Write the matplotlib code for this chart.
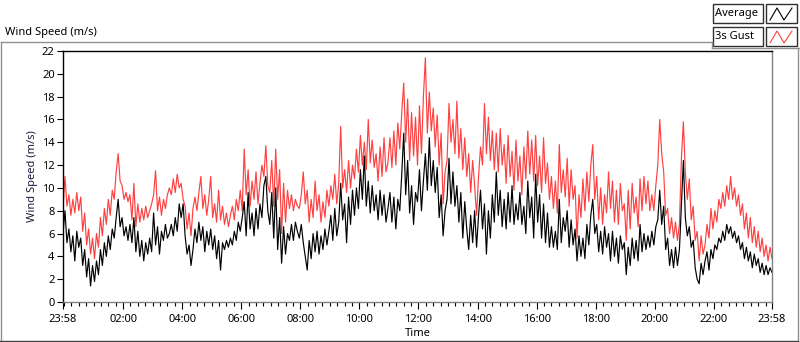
import numpy as np
import matplotlib
matplotlib.use("Agg")
import matplotlib.pyplot as plt
from matplotlib.lines import Line2D
from matplotlib.patches import Rectangle

plt.rcParams['font.family'] = ['Noto Sans', 'DejaVu Sans']

# samples every 4 minutes starting at 23:58, one row per hour
average = [
    6.0, 8.0, 5.2, 6.4, 4.4, 5.8, 3.6, 6.2, 4.8, 5.6, 3.2, 4.6, 2.2, 3.8, 1.4,
    3.2, 1.8, 3.6, 2.4, 4.6, 3.2, 5.2, 4.0, 5.8, 4.6, 6.4, 5.6, 7.4, 9.0, 6.6,
    7.4, 5.8, 6.6, 5.4, 6.8, 5.2, 7.4, 4.4, 6.2, 4.0, 5.4, 3.6, 5.2, 4.2, 5.6,
    4.4, 7.8, 5.0, 6.6, 4.2, 6.2, 5.4, 6.8, 5.6, 6.0, 6.8, 5.8, 7.4, 6.2, 8.6,
    7.4, 8.6, 5.8, 4.2, 5.0, 3.2, 4.6, 6.4, 5.2, 7.0, 5.4, 6.6, 4.4, 6.2, 5.0,
    6.4, 4.6, 5.8, 3.8, 5.4, 2.8, 5.2, 4.6, 5.4, 4.8, 5.6, 5.0, 6.2, 5.4, 7.0,
    6.2, 7.4, 8.8, 5.8, 9.6, 6.4, 7.8, 5.8, 8.2, 6.4, 8.6, 7.4, 10.2, 11.0, 8.0,
    6.8, 9.6, 5.6, 10.0, 4.6, 7.4, 3.4, 6.6, 4.2, 6.0, 5.4, 6.8, 5.4, 7.0, 6.2,
    5.6, 6.8, 5.2, 4.0, 2.8, 5.4, 3.8, 6.0, 4.4, 6.2, 4.2, 5.8, 4.6, 6.4, 5.0,
    6.2, 7.6, 5.4, 8.2, 5.8, 7.0, 10.4, 7.2, 8.6, 5.2, 9.2, 6.8, 9.8, 7.6, 10.0,
    8.2, 11.6, 9.0, 12.8, 8.4, 10.6, 7.8, 10.2, 8.0, 9.4, 7.2, 9.8, 7.6, 9.4, 7.0,
    8.2, 9.6, 7.0, 9.2, 6.4, 9.0, 8.0, 11.2, 14.8, 9.4, 12.4, 7.8, 10.2, 6.8, 9.6,
    8.8, 11.6, 8.0, 10.6, 13.0, 9.8, 14.4, 10.2, 12.4, 9.6, 11.8, 7.4, 9.4, 5.8, 8.0,
    9.0, 12.6, 8.6, 11.4, 8.4, 10.2, 7.0, 9.6, 5.6, 8.8, 6.4, 4.6, 7.6, 5.2, 8.0,
    4.8, 7.6, 9.8, 6.4, 8.6, 4.2, 8.0, 5.6, 9.4, 7.0, 11.4, 7.6, 9.8, 6.6, 9.0,
    6.4, 9.6, 7.0, 10.2, 6.8, 8.6, 7.2, 9.6, 6.8, 8.4, 6.0, 10.6, 7.4, 9.2, 5.6,
    11.2, 7.0, 9.4, 5.6, 8.6, 5.2, 7.8, 4.8, 6.6, 4.8, 6.2, 4.6, 9.0, 5.2, 7.4,
    6.2, 8.0, 4.8, 7.2, 5.0, 6.4, 3.6, 5.8, 4.0, 5.6, 3.8, 6.8, 5.0, 7.6, 9.0,
    6.0, 6.8, 4.4, 6.2, 4.2, 6.6, 4.8, 6.0, 3.6, 6.2, 4.0, 5.6, 3.4, 5.8, 4.6,
    5.2, 2.4, 4.8, 3.2, 5.6, 3.8, 5.4, 3.6, 6.8, 4.4, 6.0, 4.6, 5.8, 4.8, 6.2,
    5.0, 6.6, 7.2, 9.8, 6.8, 8.4, 4.6, 5.6, 3.2, 4.6, 3.0, 4.8, 3.2, 4.6, 8.4,
    12.4, 7.4, 5.8, 6.6, 4.8, 5.4, 3.0, 2.0, 1.6, 3.4, 2.4, 3.6, 4.4, 2.8, 4.6,
    3.8, 5.0, 4.6, 5.6, 5.2, 6.2, 5.4, 6.8, 6.0, 6.6, 5.6, 6.2, 5.2, 5.8, 4.6,
    5.2, 3.8, 4.8, 3.6, 4.4, 3.0, 4.2, 3.2, 3.8, 2.6, 3.4, 2.4, 3.2, 2.4, 3.0,
    2.6,
]

gust = [
    8.2, 11.0, 8.4, 9.4, 7.6, 9.0, 7.8, 9.6, 8.0, 9.2, 6.2, 7.8, 5.0, 6.4, 4.2,
    5.6, 3.8, 6.0, 4.8, 7.4, 5.8, 8.2, 6.8, 9.0, 7.6, 9.8, 9.0, 11.4, 13.0, 10.6,
    10.2, 9.0, 9.6, 8.8, 9.4, 7.2, 10.4, 6.6, 8.6, 7.0, 8.2, 7.2, 8.4, 7.4, 8.0,
    8.6, 9.4, 11.5, 8.0, 9.2, 7.6, 9.0, 8.2, 9.4, 10.0, 9.4, 10.8, 9.6, 11.2, 10.0,
    10.4, 9.0, 8.4, 6.4, 7.8, 5.8, 8.2, 9.2, 8.0, 9.6, 11.0, 8.2, 9.4, 7.6, 9.0,
    11.0, 7.4, 8.6, 7.0, 9.8, 7.2, 8.4, 6.8, 7.8, 6.6, 7.6, 8.4, 7.2, 9.0, 8.0,
    9.8, 8.0, 13.4, 9.4, 11.6, 8.4, 10.6, 9.0, 11.4, 8.6, 10.4, 12.0, 11.0, 13.7, 10.2,
    9.6, 12.4, 8.4, 13.4, 9.0, 11.6, 6.0, 10.4, 7.0, 9.8, 8.2, 9.4, 8.0, 9.0, 8.4,
    8.2, 9.4, 11.4, 8.6, 9.8, 7.0, 9.0, 7.4, 10.6, 8.0, 9.4, 7.0, 8.8, 7.4, 9.8,
    8.4, 10.2, 9.0, 11.2, 8.6, 10.4, 15.4, 10.0, 11.6, 9.6, 12.4, 10.0, 12.0, 10.8, 13.4,
    11.4, 14.6, 12.0, 14.0, 11.6, 16.0, 12.2, 14.2, 11.8, 13.0, 10.6, 13.6, 11.0, 14.4, 11.4,
    12.2, 14.4, 11.8, 15.0, 12.0, 15.7, 13.4, 16.6, 19.2, 14.0, 17.8, 12.4, 16.6, 12.8, 16.2,
    12.0, 17.2, 13.0, 18.0, 21.4, 14.8, 18.4, 15.0, 17.0, 13.6, 16.4, 12.0, 14.8, 8.6, 11.4,
    12.4, 17.4, 14.0, 16.0, 13.0, 17.6, 12.6, 15.2, 11.6, 14.4, 11.0, 13.0, 9.6, 12.4, 10.2,
    7.6, 11.0, 13.6, 12.0, 17.4, 13.0, 16.2, 12.4, 15.0, 11.6, 14.8, 11.4, 15.2, 12.0, 13.8,
    10.4, 14.6, 11.0, 13.2, 9.8, 14.2, 10.6, 12.8, 9.4, 13.6, 10.8, 15.0, 11.2, 14.2, 10.6,
    14.6, 10.2, 12.8, 9.6, 14.4, 10.4, 12.2, 9.0, 11.0, 8.2, 10.6, 7.8, 13.8, 9.6, 11.6,
    9.2, 12.6, 8.4, 11.6, 9.0, 10.2, 5.6, 9.4, 7.4, 10.8, 8.0, 11.4, 8.8, 12.0, 13.8,
    9.0, 11.0, 7.2, 10.0, 6.8, 9.4, 7.8, 11.4, 8.2, 10.6, 7.0, 9.8, 6.8, 10.4, 8.0,
    8.6, 5.4, 9.8, 6.4, 10.4, 7.8, 9.2, 6.6, 10.8, 8.0, 11.0, 8.6, 10.6, 8.0, 9.4,
    8.0, 10.2, 12.0, 16.0, 13.0, 11.4, 7.6, 8.2, 6.0, 7.4, 5.6, 7.0, 5.4, 6.8, 12.6,
    15.8, 11.4, 9.0, 10.8, 7.2, 8.4, 5.4, 6.2, 3.6, 5.8, 4.2, 5.0, 6.8, 5.6, 8.2,
    6.4, 8.0, 7.0, 9.0, 8.2, 9.6, 8.4, 10.2, 9.0, 11.0, 9.0, 10.0, 8.4, 9.4, 7.6,
    8.6, 6.4, 7.8, 5.6, 7.4, 5.2, 6.6, 4.8, 6.2, 4.4, 5.6, 4.0, 5.0, 3.6, 4.8,
    3.8,
]

minutes = np.arange(len(average)) * 4  # minutes after 23:58

tick_minutes = [0, 122, 242, 362, 482, 602, 722, 842, 962, 1082, 1202, 1322, 1440]
tick_labels = ['23:58', '02:00', '04:00', '06:00', '08:00', '10:00', '12:00',
               '14:00', '16:00', '18:00', '20:00', '22:00', '23:58']

W, H = 800, 342
fig = plt.figure(figsize=(W / 100, H / 100), dpi=100)

def fx(px):
    return px / W

def fy(py):
    return 1 - py / H

fs = 8

ax = fig.add_axes([fx(63), fy(302), fx(772) - fx(63), fy(51) - fy(302)])
ax.plot(minutes, gust, color='#ff4040', lw=0.85)
ax.plot(minutes, average, color='black', lw=0.85)

ax.set_xlim(0, 1440)
ax.set_ylim(0, 22)
ax.set_yticks(range(0, 23, 2))
ax.set_xticks(tick_minutes)
ax.set_xticklabels(tick_labels)
minor = [m for m in range(2, 1440, 15) if m not in tick_minutes]
ax.set_xticks(minor, minor=True)
ax.tick_params(axis='both', labelsize=fs, colors='black', width=0.8)
ax.tick_params(axis='x', which='major', length=5, pad=4)
ax.tick_params(axis='x', which='minor', length=3, width=0.8)
ax.tick_params(axis='y', length=4, pad=2)
for s in ['top', 'left']:
    ax.spines[s].set_color('black')
for s in ['right', 'bottom']:
    ax.spines[s].set_color('#808080')
for s in ax.spines.values():
    s.set_linewidth(1.0)

ax.set_xlabel('Time', fontsize=fs, labelpad=2)
ax.set_ylabel('Wind Speed (m/s)', fontsize=fs, labelpad=3, color='#1a1a40')

# outer frame
frame = '#909090'
fig.add_artist(Line2D([fx(0.5), fx(712)], [fy(42), fy(42)], color=frame, lw=1))
fig.add_artist(Line2D([fx(712), fx(712)], [fy(42), fy(48)], color=frame, lw=1))
fig.add_artist(Line2D([fx(712), fx(800)], [fy(48), fy(48)], color=frame, lw=1))
fig.add_artist(Line2D([fx(0.5), fx(0.5)], [fy(42), fy(341)], color=frame, lw=1))
fig.add_artist(Line2D([fx(797.5), fx(797.5)], [fy(48), fy(341)], color=frame, lw=1))
fig.add_artist(Line2D([fx(0), fx(798)], [fy(341), fy(341)], color='#404040', lw=1))

fig.text(fx(5), fy(32), 'Wind Speed (m/s)', fontsize=fs, va='center', ha='left')

# legend boxes
names = ['Average', '3s Gust']
colors = ['black', '#ff4040']
tops = [4, 27]
for name, col, top in zip(names, colors, tops):
    fig.add_artist(Rectangle((fx(713), fy(top + 19)), fx(50), fy(top) - fy(top + 19),
                             facecolor='white', edgecolor='#303030', lw=1))
    fig.add_artist(Rectangle((fx(766), fy(top + 19)), fx(31), fy(top) - fy(top + 19),
                             facecolor='white', edgecolor='#303030', lw=1))
    fig.text(fx(715), fy(top + 9.5), name, fontsize=fs, va='center', ha='left')
    zx = [770, 777, 784, 792]
    zy = [top + 16, top + 4, top + 16, top + 4]
    fig.add_artist(Line2D([fx(v) for v in zx], [fy(v) for v in zy], color=col, lw=0.8))

fig.savefig('out.png', dpi=100)
